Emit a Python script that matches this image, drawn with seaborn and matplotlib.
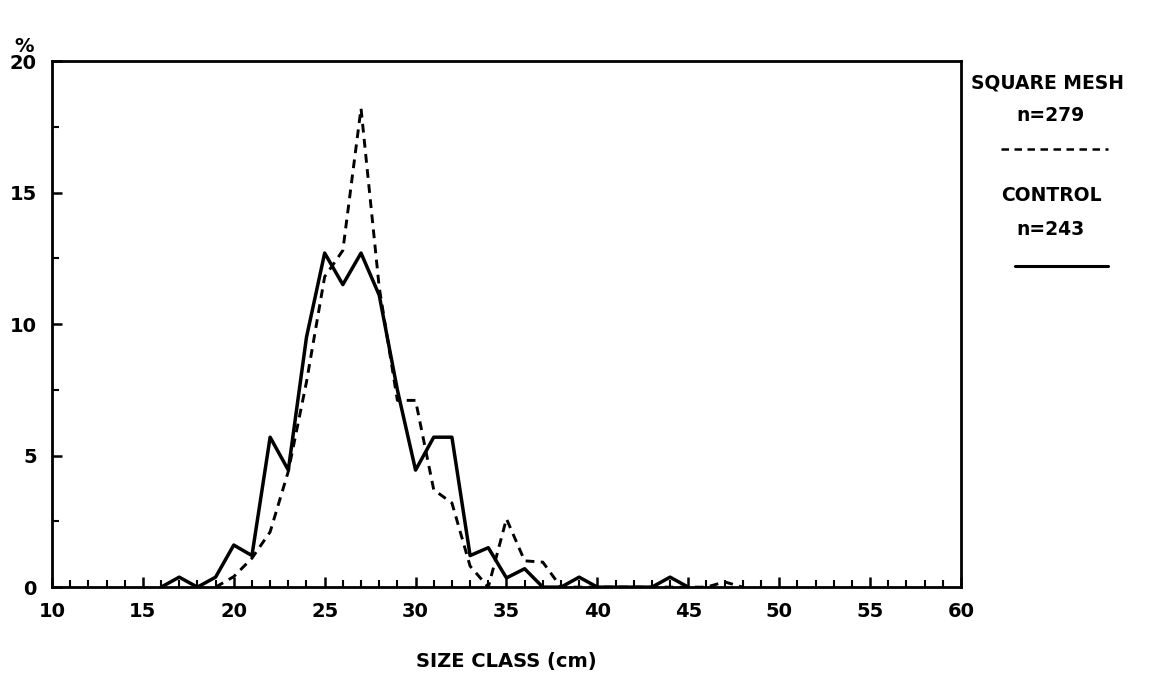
import numpy as np
import pandas as pd
import matplotlib
matplotlib.use("Agg")
import matplotlib.pyplot as plt
import seaborn as sns
from matplotlib.ticker import MultipleLocator
from matplotlib.lines import Line2D

# ---- data ----
control_x = [16, 17, 18, 19, 20, 21, 22, 23, 24, 25, 26, 27, 28, 29, 30, 31, 32,
             33, 34, 35, 36, 37, 38, 39, 40, 41, 42, 43, 44, 45]
control_pct = [0, 0.38, 0, 0.38, 1.6, 1.2, 5.7, 4.45, 9.5, 12.7, 11.5, 12.7, 11.1,
               7.5, 4.45, 5.7, 5.7, 1.2, 1.5, 0.35, 0.7, 0, 0, 0.38, 0, 0, 0, 0,
               0.38, 0]

square_x = [19, 20, 21, 22, 23, 24, 25, 26, 27, 28, 29, 30, 31, 32, 33, 34, 35,
            36, 37, 38, 39, 40, 41, 42, 43, 44, 45, 46, 47, 48]
square_pct = [0, 0.4, 1.1, 2.1, 4.4, 7.8, 11.8, 12.8, 18.2, 11.4, 7.1, 7.1, 3.7,
              3.2, 0.8, 0, 2.6, 1.0, 0.95, 0, 0, 0, 0, 0, 0, 0, 0, 0, 0.2, 0]

x_ticks = [10, 15, 20, 25, 30, 35, 40, 45, 50, 55, 60]
y_ticks = [0, 5, 10, 15, 20]

legend_labels = ["SQUARE MESH", "n=279", "CONTROL", "n=243"]

sns.set_theme(style="white")
plt.rcParams['font.family'] = ['DejaVu Sans']
plt.rcParams['font.weight'] = 'bold'
plt.rcParams['text.color'] = 'black'
plt.rcParams['axes.labelcolor'] = 'black'
plt.rcParams['xtick.color'] = 'black'
plt.rcParams['ytick.color'] = 'black'

fig = plt.figure(figsize=(11.6, 6.78), dpi=100)
ax = fig.add_axes([0.0448, 0.134, 0.7836, 0.776])

df_c = pd.DataFrame({"x": control_x, "y": control_pct})
df_s = pd.DataFrame({"x": square_x, "y": square_pct})

sns.lineplot(data=df_s, x="x", y="y", ax=ax, color="black", lw=2.1,
             linestyle=(0, (3, 2.2)), zorder=3)
sns.lineplot(data=df_c, x="x", y="y", ax=ax, color="black", lw=2.5, zorder=4)

ax.set_xlim(10, 60)
ax.set_ylim(0, 20)
ax.set_xticks(x_ticks)
ax.set_yticks(y_ticks)
ax.set_xticklabels([str(t) for t in x_ticks], fontsize=14, fontweight='bold')
ax.set_yticklabels([str(t) for t in y_ticks], fontsize=14, fontweight='bold')
ax.xaxis.set_minor_locator(MultipleLocator(1))
ax.yaxis.set_minor_locator(MultipleLocator(2.5))
ax.tick_params(axis='both', which='major', direction='in', length=7, width=1.8,
               color='black', bottom=True, left=True)
ax.tick_params(axis='both', which='minor', direction='in', length=5, width=1.5,
               color='black', bottom=True, left=True)
ax.tick_params(axis='x', which='major', pad=11)
ax.tick_params(axis='y', which='major', pad=11)
for s in ax.spines.values():
    s.set_visible(True)
    s.set_color('black')
    s.set_linewidth(2.0)

ax.set_xlabel("SIZE CLASS (cm)", fontsize=14, fontweight='bold', labelpad=22)
ax.set_ylabel("")
fig.text(0.012, 0.932, "%", fontsize=14, fontweight='bold', ha='left', va='center')

# right-hand legend
lx = 0.903
fig.text(lx, 0.878, legend_labels[0], fontsize=13.5, fontweight='bold', ha='center', va='center')
fig.text(lx + 0.003, 0.830, legend_labels[1], fontsize=13.5, fontweight='bold', ha='center', va='center')
fig.add_artist(Line2D([0.863, 0.955], [0.780, 0.780], color='black', lw=1.8,
                      linestyle=(0, (3, 2.2)), transform=fig.transFigure))
fig.text(lx + 0.003, 0.711, legend_labels[2], fontsize=13.5, fontweight='bold', ha='center', va='center')
fig.text(lx + 0.003, 0.661, legend_labels[3], fontsize=13.5, fontweight='bold', ha='center', va='center')
fig.add_artist(Line2D([0.875, 0.955], [0.607, 0.607], color='black', lw=2.2,
                      transform=fig.transFigure))

fig.savefig("out.png", dpi=100, facecolor='white')
